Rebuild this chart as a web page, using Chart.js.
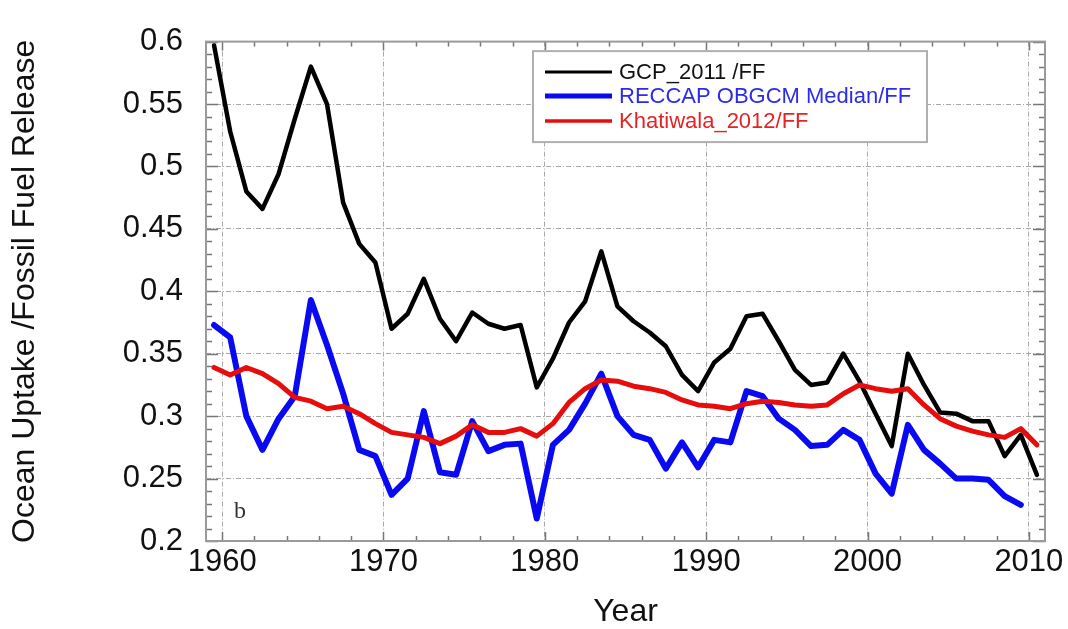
<!DOCTYPE html>
<html>
<head>
<meta charset="utf-8">
<script src="https://cdn.jsdelivr.net/npm/chart.js@4.4.1/dist/chart.umd.min.js"></script>
<style>
  html, body { margin: 0; padding: 0; background: #ffffff; }
  canvas { display: block; }
</style>
</head>
<body>
<canvas id="chart" width="1068" height="629"></canvas>
<script>
// Annual ratios of ocean CO2 uptake to fossil fuel release (plotted at mid-year)
const years = [
  1959, 1960, 1961, 1962, 1963, 1964, 1965, 1966, 1967, 1968,
  1969, 1970, 1971, 1972, 1973, 1974, 1975, 1976, 1977, 1978,
  1979, 1980, 1981, 1982, 1983, 1984, 1985, 1986, 1987, 1988,
  1989, 1990, 1991, 1992, 1993, 1994, 1995, 1996, 1997, 1998,
  1999, 2000, 2001, 2002, 2003, 2004, 2005, 2006, 2007, 2008,
  2009, 2010
];

const gcp2011 = [
  0.597, 0.528, 0.480, 0.466, 0.494, 0.538, 0.580, 0.550, 0.471, 0.438,
  0.423, 0.370, 0.382, 0.410, 0.378, 0.360, 0.383, 0.374, 0.370, 0.373,
  0.323, 0.346, 0.375, 0.392, 0.432, 0.388, 0.376, 0.367, 0.356, 0.333,
  0.320, 0.343, 0.354, 0.380, 0.382, 0.360, 0.337, 0.325, 0.327, 0.350,
  0.328, 0.302, 0.276, 0.350, 0.325, 0.303, 0.302, 0.296, 0.296, 0.268,
  0.285, 0.253
];

const reccapMedian = [
  0.373, 0.363, 0.300, 0.273, 0.298, 0.316, 0.393, 0.357, 0.318, 0.273,
  0.268, 0.237, 0.250, 0.304, 0.255, 0.253, 0.296, 0.272, 0.277, 0.278,
  0.218, 0.277, 0.289, 0.310, 0.334, 0.300, 0.285, 0.281, 0.258, 0.279,
  0.259, 0.281, 0.279, 0.320, 0.316, 0.298, 0.289, 0.276, 0.277, 0.289,
  0.281, 0.254, 0.238, 0.293, 0.273, 0.262, 0.250, 0.250, 0.249, 0.236,
  0.229, null
];

const khatiwala2012 = [
  0.339, 0.333, 0.339, 0.334, 0.326, 0.315, 0.312, 0.306, 0.308, 0.302,
  0.294, 0.287, 0.285, 0.283, 0.278, 0.284, 0.293, 0.287, 0.287, 0.290,
  0.284, 0.294, 0.311, 0.322, 0.329, 0.328, 0.324, 0.322, 0.319, 0.313,
  0.309, 0.308, 0.306, 0.310, 0.312, 0.311, 0.309, 0.308, 0.309, 0.318,
  0.325, 0.322, 0.320, 0.322, 0.309, 0.298, 0.292, 0.288, 0.285, 0.283,
  0.290, 0.277
];

const seriesNames = ['GCP_2011 /FF', 'RECCAP OBGCM Median/FF', 'Khatiwala_2012/FF'];
const xTickValues = [1960, 1970, 1980, 1990, 2000, 2010];
const yTickValues = [0.2, 0.25, 0.3, 0.35, 0.4, 0.45, 0.5, 0.55, 0.6];
const panelLetter = 'b';

const FONT = "'Liberation Sans', Arial, Helvetica, sans-serif";

// each annual value sits at the middle of its year
function toPoints(values) {
  return years.map((yr, i) => ({ x: yr + 0.5, y: values[i] }));
}

// inward ticks, plot frame, legend box and panel letter
const framePlugin = {
  id: 'frameAndLegend',
  afterDraw(chart) {
    const { ctx, chartArea: a, scales: { x, y } } = chart;
    ctx.save();

    // tick marks on all four sides
    ctx.strokeStyle = '#777777';
    ctx.lineWidth = 1.5;
    ctx.beginPath();
    for (let yr = 1960; yr <= 2010; yr += 2) {
      const px = Math.round(x.getPixelForValue(yr)) + 0.5;
      const len = (yr % 10 === 0) ? 9 : 5;
      ctx.moveTo(px, a.bottom); ctx.lineTo(px, a.bottom - len);
      ctx.moveTo(px, a.top); ctx.lineTo(px, a.top + len);
    }
    for (let k = 20; k <= 60; k += 1) {
      const py = Math.round(y.getPixelForValue(k / 100)) + 0.5;
      const len = (k % 5 === 0) ? 12 : 6;
      ctx.moveTo(a.left, py); ctx.lineTo(a.left + len, py);
      ctx.moveTo(a.right, py); ctx.lineTo(a.right - len, py);
    }
    ctx.stroke();

    // plot frame
    ctx.strokeStyle = '#9a9a9a';
    ctx.lineWidth = 2;
    ctx.strokeRect(a.left, a.top, a.right - a.left, a.bottom - a.top);

    // panel letter
    ctx.fillStyle = '#333333';
    ctx.font = "24px 'Liberation Serif', 'Times New Roman', serif";
    ctx.textAlign = 'center';
    ctx.textBaseline = 'middle';
    ctx.fillText(panelLetter, x.getPixelForValue(1961.1), y.getPixelForValue(0.2235));

    // legend
    const bx = a.left + 327, by = a.top + 9.5, bw = 394, bh = 91;
    ctx.fillStyle = '#ffffff';
    ctx.fillRect(bx, by, bw, bh);
    ctx.strokeStyle = '#b0b0b0';
    ctx.lineWidth = 2;
    ctx.strokeRect(bx, by, bw, bh);
    ctx.font = '22px ' + FONT;
    ctx.textAlign = 'left';
    ctx.textBaseline = 'middle';
    const rowY = [by + 21, by + 45, by + 70];
    chart.data.datasets.forEach((ds, i) => {
      ctx.strokeStyle = ds.borderColor;
      ctx.lineWidth = ds.legendLineWidth;
      ctx.beginPath();
      ctx.moveTo(bx + 12, rowY[i]);
      ctx.lineTo(bx + 79, rowY[i]);
      ctx.stroke();
      ctx.fillStyle = ds.legendTextColor;
      ctx.fillText(ds.label, bx + 86, rowY[i] + 1);
    });

    ctx.restore();
  }
};

const lineStyle = {
  pointRadius: 0,
  pointHoverRadius: 0,
  tension: 0,
  fill: false,
  borderJoinStyle: 'round',
  borderCapStyle: 'round',
  spanGaps: false
};

new Chart(document.getElementById('chart'), {
  type: 'line',
  data: {
    datasets: [
      Object.assign({
        label: seriesNames[0],
        data: toPoints(gcp2011),
        borderColor: '#000000',
        borderWidth: 4.5,
        legendLineWidth: 3,
        legendTextColor: '#111111',
        order: 1
      }, lineStyle),
      Object.assign({
        label: seriesNames[1],
        data: toPoints(reccapMedian),
        borderColor: '#0a0af2',
        borderWidth: 6,
        legendLineWidth: 5,
        legendTextColor: '#2b2be8',
        order: 2
      }, lineStyle),
      Object.assign({
        label: seriesNames[2],
        data: toPoints(khatiwala2012),
        borderColor: '#e60d0d',
        borderWidth: 5,
        legendLineWidth: 3.5,
        legendTextColor: '#e42424',
        order: 0
      }, lineStyle)
    ]
  },
  options: {
    responsive: false,
    animation: false,
    devicePixelRatio: 1,
    parsing: false,
    layout: { padding: { top: 27, right: 23, bottom: 0, left: 0 } },
    plugins: {
      legend: { display: false },
      tooltip: { enabled: false },
      title: { display: false }
    },
    scales: {
      x: {
        type: 'linear',
        min: 1959,
        max: 2011,
        afterBuildTicks: s => { s.ticks = xTickValues.map(v => ({ value: v })); },
        afterFit: s => { s.height = 88; },
        grid: { color: '#a9a9a9', lineWidth: 1, drawTicks: false },
        border: { display: false, dash: [5, 2, 1, 2] },
        ticks: {
          autoSkip: false,
          maxRotation: 0,
          padding: 3,
          color: '#111111',
          font: { family: FONT, size: 31, lineHeight: 1.2 },
          callback: v => String(v)
        },
        title: {
          display: true,
          text: 'Year',
          color: '#111111',
          font: { family: FONT, size: 32, lineHeight: 1 },
          padding: { top: 0, bottom: 1 }
        }
      },
      y: {
        type: 'linear',
        min: 0.2,
        max: 0.6,
        afterBuildTicks: s => { s.ticks = yTickValues.map(v => ({ value: v })); },
        afterFit: s => { s.width = 206; },
        grid: { color: '#a9a9a9', lineWidth: 1, drawTicks: false },
        border: { display: false, dash: [5, 2, 1, 2] },
        ticks: {
          padding: 23,
          color: '#111111',
          font: { family: FONT, size: 31, lineHeight: 1.2 },
          callback: v => String(Math.round(v * 100) / 100)
        },
        title: {
          display: true,
          text: 'Ocean Uptake /Fossil Fuel Release',
          color: '#111111',
          font: { family: FONT, size: 32, lineHeight: 1.2 },
          padding: { top: 6, bottom: 0 }
        }
      }
    }
  },
  plugins: [framePlugin]
});
</script>
</body>
</html>
